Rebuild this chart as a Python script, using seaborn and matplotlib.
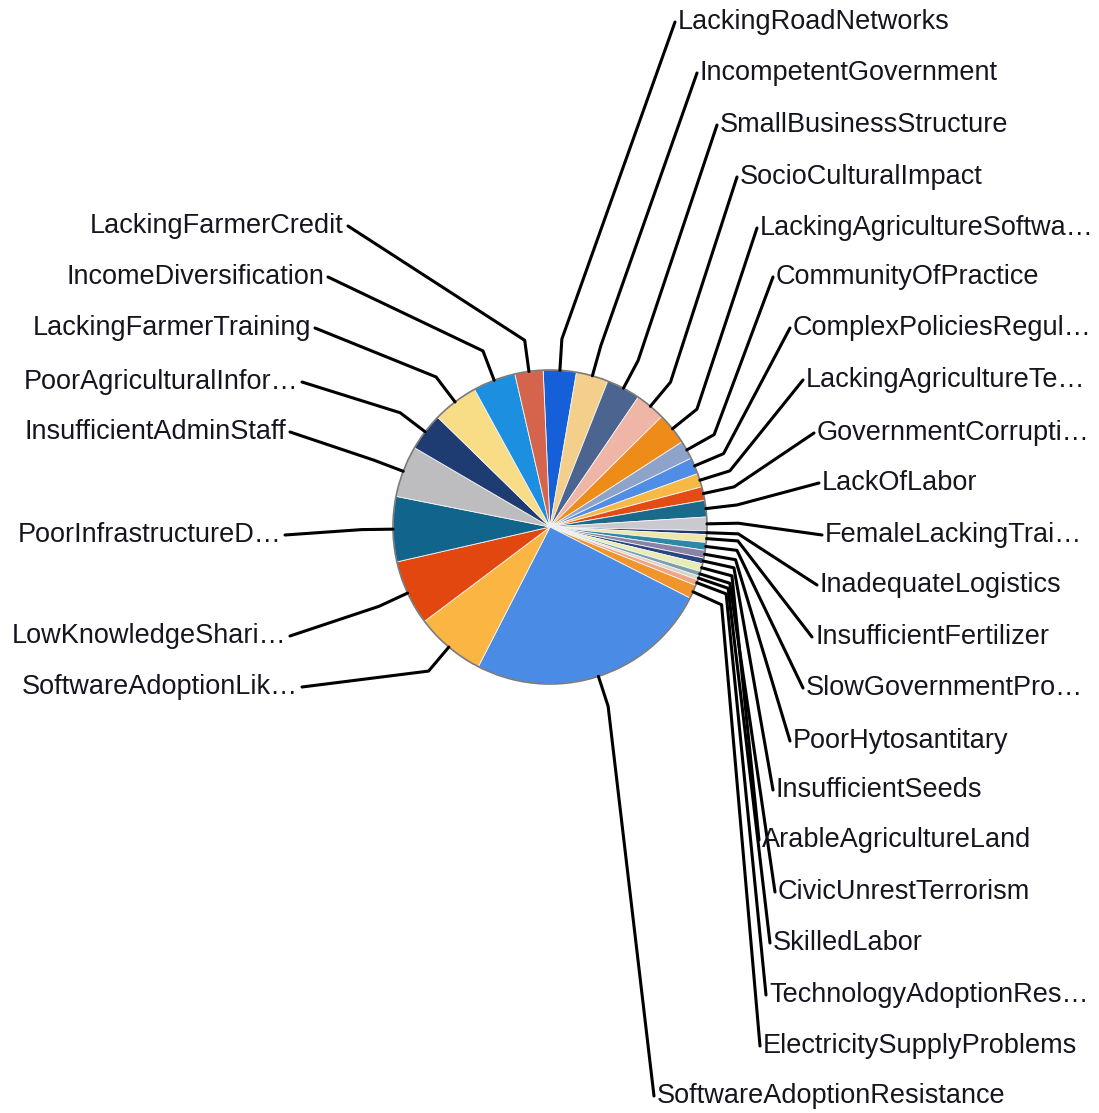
import matplotlib
matplotlib.use("Agg")
import numpy as np
import seaborn as sns
import matplotlib.pyplot as plt

# Slice data, clockwise from the top of the pie (values in percent)
categories = [
    "LackingRoadNetworks", "IncompetentGovernment", "SmallBusinessStructure",
    "SocioCulturalImpact", "LackingAgricultureSoftwa…", "CommunityOfPractice",
    "ComplexPoliciesRegul…", "LackingAgricultureTe…", "GovernmentCorrupti…",
    "LackOfLabor", "FemaleLackingTrai…", "InadequateLogistics",
    "InsufficientFertilizer", "SlowGovernmentPro…", "PoorHytosantitary",
    "InsufficientSeeds", "ArableAgricultureLand", "CivicUnrestTerrorism",
    "SkilledLabor", "TechnologyAdoptionRes…", "ElectricitySupplyProblems",
    "SoftwareAdoptionResistance", "SoftwareAdoptionLik…", "LowKnowledgeShari…",
    "PoorInfrastructureD…", "InsufficientAdminStaff", "PoorAgriculturalInfor…",
    "LackingFarmerTraining", "IncomeDiversification", "LackingFarmerCredit",
]
share = [
    3.4, 3.3, 3.5, 3.1, 3.3, 1.9, 1.7, 1.4, 1.4, 1.7,
    1.4, 0.4, 0.8, 0.8, 0.8, 0.6, 0.8, 0.5, 0.4, 0.6,
    1.4, 25.1, 7.2, 6.7, 6.7, 5.3, 3.9, 4.7, 4.4, 2.9,
]
colors = [
    "#1560d8", "#f3cf8b", "#4c6490", "#efb5a6", "#ee8c1a", "#8ea3c9",
    "#4f8de6", "#f6b945", "#e34d15", "#1b6a8c", "#c9c9cf", "#1f3a6b",
    "#efe6a8", "#2d88a8", "#8a83a6", "#2a4580", "#e6edb5", "#7ba0ac",
    "#d9d3c8", "#f0a684", "#f0952c", "#4a8be6", "#fbb542", "#e2470f",
    "#11648c", "#bdbdbf", "#1e3b72", "#f8dc86", "#1d8fe0", "#d4644b",
]

# Label anchor points in picture pixels (layout only)
label_x = [678, 700, 720, 740, 760, 776, 793, 806, 817, 822,
           825, 820, 815, 806, 793, 776, 762, 778, 773, 769,
           763, 657, 298, 286, 281, 286, 298, 311, 324, 344]
label_y = [22, 73, 125, 177, 228, 277, 328, 380, 433, 483,
           535, 585, 637, 688, 741, 790, 840, 892, 943, 995,
           1046, 1096, 687, 636, 535, 432, 382, 328, 277, 226]

W, H = 1099, 1113
cx, cy, R = 550, 527, 157

sns.set_theme(style="white")
plt.rcParams["font.family"] = ["Liberation Sans", "DejaVu Sans"]

fig = plt.figure(figsize=(W / 100, H / 100), dpi=100)
ax = fig.add_axes([0, 0, 1, 1])

wedges, _ = ax.pie(share, colors=colors, startangle=92.5, counterclock=False,
                   center=(cx, H - cy), radius=R,
                   wedgeprops=dict(edgecolor="#f4f4f4", linewidth=0.6))
ax.add_patch(plt.Circle((cx, H - cy), R, fill=False, ec="#7a7a7a", lw=1.2))

for w, name, lx, ly in zip(wedges, categories, label_x, label_y):
    mid = np.deg2rad((w.theta1 + w.theta2) / 2)
    px, py = cx + R * np.cos(mid), (H - cy) + R * np.sin(mid)
    ex, ey = cx + 1.2 * R * np.cos(mid), (H - cy) + 1.2 * R * np.sin(mid)
    right = lx > cx
    tx = lx - 3 if right else lx + 4
    ax.plot([px, ex, tx], [py, ey, H - ly], color="black", lw=2.2,
            solid_joinstyle="round", zorder=1)
    ax.text(lx, H - ly, name, ha="left" if right else "right", va="center",
            fontsize=19.5, color="#15151f", zorder=3)

ax.set_xlim(0, W)
ax.set_ylim(0, H)
ax.set_aspect("equal")
ax.axis("off")

fig.savefig("out.png", dpi=100, facecolor="white")
